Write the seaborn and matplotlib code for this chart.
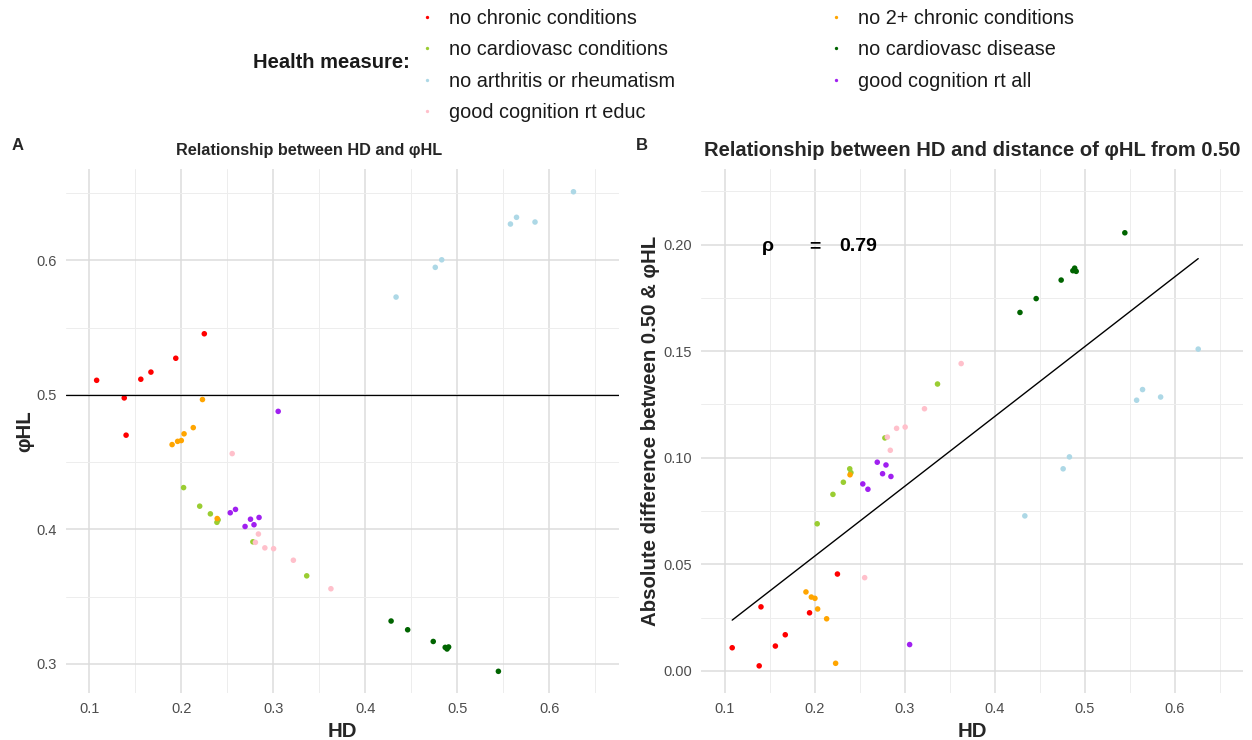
import numpy as np
import pandas as pd
import matplotlib
matplotlib.use("Agg")
import matplotlib.pyplot as plt
import seaborn as sns

# ---------------- data ----------------
groups = ["no chronic conditions", "no cardiovasc conditions",
          "no arthritis or rheumatism", "good cognition rt educ",
          "no 2+ chronic conditions", "no cardiovasc disease",
          "good cognition rt all"]
colors = ["#FF0000", "#9ACD32", "#ADD8E6", "#FFC0CB",
          "#FFA500", "#006400", "#A020F0"]

hd_no_chronic = [0.108, 0.138, 0.140, 0.156, 0.167, 0.194, 0.225]
phi_no_chronic = [0.5108, 0.4977, 0.470, 0.5116, 0.5169, 0.5272, 0.5454]

hd_no_cardio_cond = [0.2025, 0.220, 0.2316, 0.2387, 0.240, 0.2778, 0.3363]
phi_no_cardio_cond = [0.431, 0.4172, 0.4115, 0.4052, 0.407, 0.3907, 0.3654]

hd_no_arthritis = [0.4334, 0.476, 0.483, 0.5577, 0.5643, 0.5844, 0.6262]
phi_no_arthritis = [0.5727, 0.5948, 0.6004, 0.627, 0.632, 0.6285, 0.651]

hd_cog_educ = [0.2553, 0.2805, 0.2838, 0.2908, 0.3003, 0.3218, 0.3626]
phi_cog_educ = [0.4563, 0.3903, 0.3965, 0.3862, 0.3856, 0.377, 0.3558]

hd_no_2chronic = [0.190, 0.196, 0.200, 0.203, 0.213, 0.223, 0.239]
phi_no_2chronic = [0.463, 0.4654, 0.466, 0.471, 0.4756, 0.4965, 0.408]

hd_no_cardio_dis = [0.428, 0.446, 0.4738, 0.4868, 0.4888, 0.4905, 0.5446]
phi_no_cardio_dis = [0.3318, 0.3253, 0.3166, 0.3122, 0.311, 0.3125, 0.2944]

hd_cog_all = [0.2532, 0.2589, 0.2693, 0.2752, 0.279, 0.2845, 0.3053]
phi_cog_all = [0.4123, 0.4148, 0.4021, 0.4075, 0.4034, 0.4088, 0.4877]

rho_label = "0.79"

hd_lists = [hd_no_chronic, hd_no_cardio_cond, hd_no_arthritis, hd_cog_educ,
            hd_no_2chronic, hd_no_cardio_dis, hd_cog_all]
phi_lists = [phi_no_chronic, phi_no_cardio_cond, phi_no_arthritis, phi_cog_educ,
             phi_no_2chronic, phi_no_cardio_dis, phi_cog_all]

rows = []
for g, hs, ps in zip(groups, hd_lists, phi_lists):
    for h, p in zip(hs, ps):
        rows.append({"measure": g, "HD": h, "phiHL": p})
df = pd.DataFrame(rows)
df["absdiff"] = (df["phiHL"] - 0.5).abs()
palette = dict(zip(groups, colors))

# ---------------- style ----------------
sns.set_theme(style="white")
plt.rcParams["font.family"] = ["Liberation Sans", "DejaVu Sans"]

W, H = 1252, 740
fig = plt.figure(figsize=(W / 100, H / 100), dpi=100)

def px_axes(l, t, r, b):
    return fig.add_axes([l / W, 1 - b / H, (r - l) / W, (b - t) / H])

axA = px_axes(66, 169.3, 619.3, 692.7)
axB = px_axes(701, 169.3, 1243, 692.7)

major_c, minor_c = "#DCDCDC", "#EDEDED"
tick_c = "#4D4D4D"

def style_axes(ax, xmaj, xmin, ymaj, ymin, yfmt):
    ax.set_xticks(xmaj)
    ax.set_xticks(xmin, minor=True)
    ax.set_yticks(ymaj)
    ax.set_yticks(ymin, minor=True)
    ax.set_xticklabels([f"{v:.1f}" for v in xmaj])
    ax.set_yticklabels([yfmt.format(v) for v in ymaj])
    ax.grid(which="major", color=major_c, lw=1.1)
    ax.grid(which="minor", color=minor_c, lw=0.7)
    ax.set_axisbelow(True)
    for s in ax.spines.values():
        s.set_visible(False)
    ax.tick_params(which="both", length=0, labelsize=10.5, labelcolor=tick_c)
    ax.tick_params(axis="x", pad=7)
    ax.tick_params(axis="y", pad=6.5)

# ---------------- Panel A ----------------
sns.scatterplot(data=df, x="HD", y="phiHL", hue="measure", hue_order=groups,
                palette=palette, s=16, linewidth=0, ax=axA, legend=True)
axA.axhline(0.5, color="black", lw=0.9, zorder=1.5)
axA.set_xlim(0.0747, 0.676)
axA.set_ylim(0.2785, 0.6677)
style_axes(axA, [0.1, 0.2, 0.3, 0.4, 0.5, 0.6],
           [0.15, 0.25, 0.35, 0.45, 0.55, 0.65],
           [0.3, 0.4, 0.5, 0.6], [0.35, 0.45, 0.55, 0.65], "{:.1f}")
axA.set_xlabel("HD", fontsize=14.7, fontweight="bold", labelpad=4)
axA.set_ylabel("φHL", fontsize=14.7, fontweight="bold", labelpad=2)

handles, labels = axA.get_legend_handles_labels()
axA.get_legend().remove()

# ---------------- Panel B ----------------
sns.scatterplot(data=df, x="HD", y="absdiff", hue="measure", hue_order=groups,
                palette=palette, s=16, linewidth=0, ax=axB, legend=False)
sns.regplot(data=df, x="HD", y="absdiff", scatter=False, ci=None, truncate=True,
            color="black", line_kws={"lw": 1.0}, ax=axB)
axB.set_xlim(0.0733, 0.676)
axB.set_ylim(-0.0103, 0.2354)
style_axes(axB, [0.1, 0.2, 0.3, 0.4, 0.5, 0.6],
           [0.15, 0.25, 0.35, 0.45, 0.55, 0.65],
           [0.0, 0.05, 0.10, 0.15, 0.20], [0.025, 0.075, 0.125, 0.175, 0.225],
           "{:.2f}")
axB.set_xlabel("HD", fontsize=14.7, fontweight="bold", labelpad=4)
axB.set_ylabel("Absolute difference between 0.50 & φHL", fontsize=14.7,
               fontweight="bold", labelpad=2)
for xv, t in [(0.148, "ρ"), (0.200, "="), (0.248, rho_label)]:
    axB.text(xv, 0.199, t, ha="center", va="center", fontsize=14,
             fontweight="bold", color="black")

# ---------------- titles / panel tags ----------------
fig.text(309 / W, 1 - 150 / H, "Relationship between HD and φHL",
         ha="center", va="center", fontsize=11.7, fontweight="bold")
fig.text(972 / W, 1 - 150 / H,
         "Relationship between HD and distance of φHL from 0.50",
         ha="center", va="center", fontsize=14.5, fontweight="bold")
fig.text(18 / W, 1 - 145 / H, "A", ha="center", va="center",
         fontsize=12, fontweight="bold")
fig.text(642 / W, 1 - 145 / H, "B", ha="center", va="center",
         fontsize=12, fontweight="bold")

# ---------------- legend ----------------
fig.text(410 / W, 1 - 63 / H, "Health measure:", ha="right", va="center",
         fontsize=14.5, fontweight="bold", color="#1A1A1A")
leg = fig.legend(handles, labels, loc="upper left",
                 bbox_to_anchor=(417 / W, 1 - 8.5 / H), ncol=2,
                 frameon=False, borderpad=0, borderaxespad=0,
                 handlelength=1.0, handletextpad=0.6, labelspacing=0.63,
                 columnspacing=7.6, markerscale=0.6, fontsize=14.3)
for t in leg.get_texts():
    t.set_color("#1A1A1A")

fig.savefig("out.png", dpi=100)
